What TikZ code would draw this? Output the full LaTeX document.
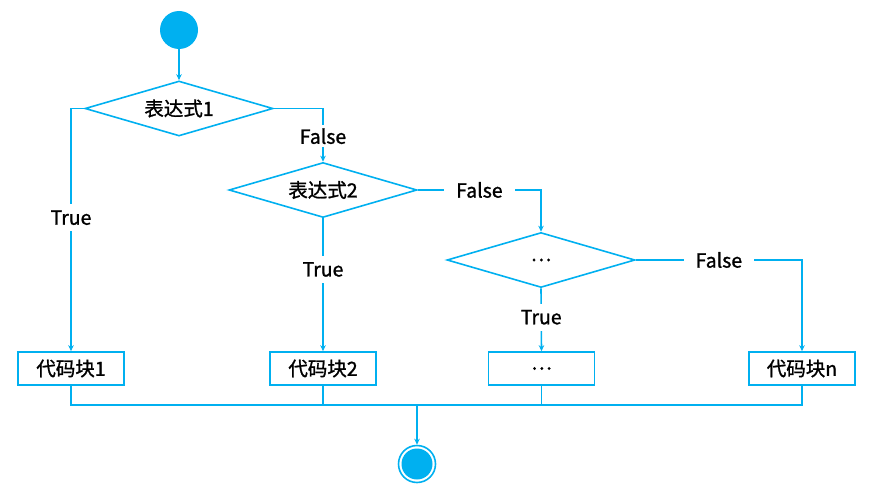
\documentclass[tikz,border=0pt]{standalone}
\usepackage{fontspec}
\setmainfont{Noto Sans CJK SC}[FakeBold=1.2]
\usetikzlibrary{shapes.geometric,arrows.meta}
\definecolor{fc}{HTML}{00B0F0}
\begin{document}
\begin{tikzpicture}[x=1pt,y=-1pt,
  font=\fontsize{19.5}{21}\selectfont,
  ln/.style={draw=fc,line width=1.6pt},
  arr/.style={ln,-{Stealth[length=6pt,width=5.5pt]}},
  dia/.style={diamond,draw=fc,line width=1.6pt,aspect=3.4,inner sep=0pt,minimum width=188pt,minimum height=55pt},
  blk/.style={rectangle,draw=fc,line width=1.6pt,minimum width=106pt,minimum height=33pt,inner sep=0pt},
  lbl/.style={fill=white,inner xsep=12pt,inner ysep=6pt,text=black}]
\useasboundingbox (0,0) rectangle (875,500);
\node[circle,fill=fc,minimum size=38pt,inner sep=0pt] (start) at (179,30) {};
\node[dia] (d1) at (179,108.5) {表达式1};
\node[dia] (d2) at (323,190) {表达式2};
\node[dia] (d3) at (541,260) {…};
\node[blk] (b1) at (71,368.5) {代码块1};
\node[blk] (b2) at (323,368.5) {代码块2};
\node[blk] (b3) at (541.5,368.5) {…};
\node[blk] (bn) at (802,368.5) {代码块n};
\node[circle,draw=fc,line width=1.6pt,minimum size=37pt,inner sep=0pt] (end) at (417,464) {};
\fill[fc] (end.center) circle (15.5pt);
\coordinate (j) at (417,405);
\draw[arr] (start) -- (d1.north);
\draw[arr] (d1.west) -| node[lbl,pos=0.725] {True} (b1.north);
\draw[arr] (d1.east) -| node[lbl,pos=0.76,inner ysep=3pt] {False} (d2.north);
\draw[arr] (d2.south) -- node[lbl,pos=0.385] {True} (b2.north);
\draw[arr] (d2.east) -| node[lbl,pos=0.25] {False} (d3.north);
\draw[arr] (d3.south) -- node[lbl,pos=0.46] {True} (b3.north);
\draw[arr] (d3.east) -| node[lbl,pos=0.25] {False} (bn.north);
\draw[ln] (b1.south) |- (j) -| (bn.south);
\draw[ln] (b2.south) -- (b2.south |- j);
\draw[ln] (b3.south) -- (b3.south |- j);
\draw[arr] ([yshift=-1pt]j) -- (end.north);
\end{tikzpicture}
\end{document}
